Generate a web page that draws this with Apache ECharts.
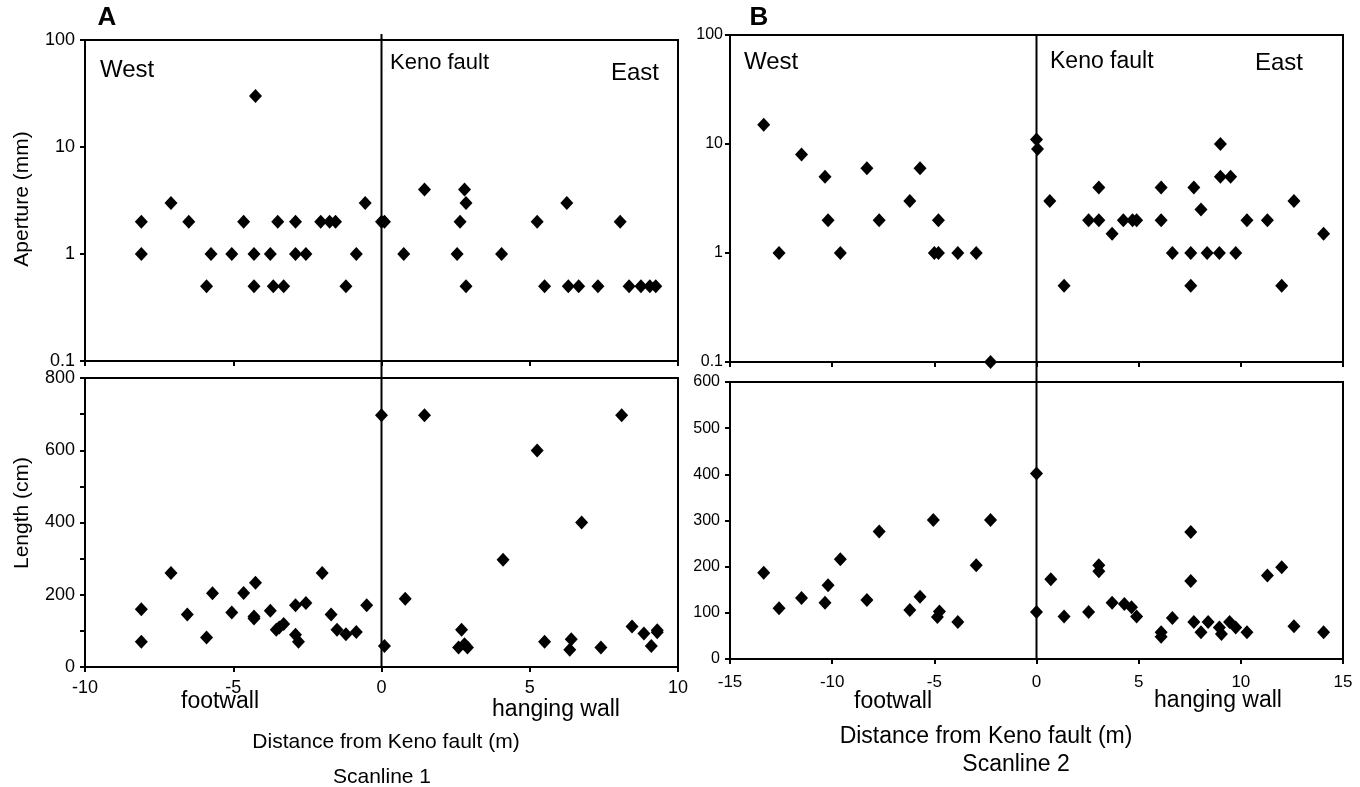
<!DOCTYPE html>
<html>
<head>
<meta charset="utf-8">
<script src="https://cdn.jsdelivr.net/npm/echarts@6/dist/echarts.min.js"></script>
<style>
html,body{margin:0;padding:0;background:#fff;}
#chart{width:1360px;height:787px;}
</style>
</head>
<body>
<div id="chart"></div>
<script>
// Scanline 1 (panel A): [distance m, aperture mm]
const scan1Aperture = [
  [-8.1,2],[-8.1,1],[-7.1,3],[-6.5,2],[-5.9,0.5],[-5.75,1],[-5.05,1],[-4.65,2],[-4.25,30],
  [-4.3,1],[-4.3,0.5],[-3.75,1],[-3.65,0.5],[-3.5,2],[-3.3,0.5],[-2.9,2],[-2.9,1],[-2.55,1],
  [-2.05,2],[-1.75,2],[-1.55,2],[-1.2,0.5],[-0.85,1],[-0.55,3],[0,2],[0.1,2],[0.75,1],
  [1.45,4],[2.65,2],[2.55,1],[2.8,4],[2.85,3],[2.85,0.5],[4.05,1],[5.25,2],[5.5,0.5],
  [6.25,3],[6.3,0.5],[6.65,0.5],[7.3,0.5],[8.05,2],[8.35,0.5],[8.75,0.5],[9.05,0.5],[9.25,0.5]
];
// Scanline 1 (panel A): [distance m, length cm]
const scan1Length = [
  [-8.1,160],[-8.1,70],[-7.1,260],[-6.55,145],[-5.9,82],[-5.7,204],[-5.05,151],[-4.65,205],
  [-4.25,233],[-4.3,140],[-4.3,134],[-3.75,156],[-3.55,103],[-3.45,109],[-3.3,119],[-2.9,171],
  [-2.55,177],[-2.9,89],[-2.8,70],[-2.0,260],[-1.7,145],[-1.5,103],[-1.2,91],[-0.85,97],
  [-0.5,171],[0,697],[0.1,58],[0.8,189],[1.45,697],[2.7,103],[2.6,54],[2.8,63],[2.9,54],
  [4.1,297],[5.25,599],[5.5,70],[6.4,77],[6.35,48],[6.75,400],[7.4,54],[8.1,697],[8.45,112],
  [8.85,93],[9.1,58],[9.3,102],[9.3,96]
];
// Scanline 2 (panel B): [distance m, aperture mm]
const scan2Aperture = [
  [-13.35,15],[-12.6,1],[-11.5,8],[-10.35,5],[-10.2,2],[-9.6,1],[-8.3,6],[-7.7,2],[-6.2,3],
  [-5.7,6],[-5.0,1],[-4.8,1],[-4.8,2],[-3.85,1],[-2.95,1],[-2.25,0.1],[0,11],[0.05,9],
  [0.65,3],[1.35,0.5],[2.55,2],[3.05,4],[3.05,2],[3.7,1.5],[4.25,2],[4.7,2],[4.9,2],
  [6.1,4],[6.1,2],[6.65,1],[7.55,1],[7.55,0.5],[7.7,4],[8.05,2.5],[8.35,1],[9.0,10],
  [9.0,5],[8.95,1],[9.5,5],[9.75,1],[10.3,2],[11.3,2],[12.0,0.5],[12.6,3],[14.05,1.5]
];
// Scanline 2 (panel B): [distance m, length cm]
const scan2Length = [
  [-13.35,187],[-12.6,110],[-11.5,132],[-10.35,122],[-10.2,160],[-9.6,216],[-8.3,128],
  [-7.7,276],[-6.2,106],[-5.7,135],[-5.05,301],[-4.75,103],[-4.85,91],[-3.85,80],[-2.95,203],
  [-2.25,301],[0,402],[0,102],[0.7,173],[1.35,92],[2.55,102],[3.05,203],[3.05,190],[3.7,122],
  [4.3,119],[4.65,112],[4.9,92],[6.1,58],[6.1,48],[6.65,89],[7.55,275],[7.55,169],[7.7,80],
  [8.05,58],[8.4,80],[8.95,68],[9.05,54],[9.45,80],[9.75,68],[10.3,58],[11.3,181],[12.0,199],
  [12.6,71],[14.05,58]
];
// Fault trace (x = 0), spans both plots of a panel
const faultLine = [[0,0],[0,1]];

const scan1XRange = [-10, 10];
const scan2XRange = [-15, 15];
const apertureRange = [0.1, 100];
const scan1LengthRange = [0, 800];
const scan2LengthRange = [0, 600];

const FONT = 'Liberation Sans, Arial, Helvetica, sans-serif';
const black = '#000';

function xAx(gi, range, showLabels, fs, margin) {
  return {
    gridIndex: gi, type: 'value', min: range[0], max: range[1], interval: 5,
    axisLine: {show: true, onZero: false, lineStyle: {color: black, width: 2}},
    axisTick: {show: true, inside: false, length: 5, lineStyle: {color: black, width: 2}},
    axisLabel: {show: showLabels, color: black, fontSize: fs, fontFamily: FONT, margin: margin},
    splitLine: {show: false}
  };
}
function hiddenAx(gi, range) {
  return {gridIndex: gi, type: 'value', min: range[0], max: range[1], show: false, splitLine: {show: false}};
}
function yLog(gi, fs, margin) {
  return {
    gridIndex: gi, type: 'log', logBase: 10, min: apertureRange[0], max: apertureRange[1],
    axisLine: {show: true, onZero: false, lineStyle: {color: black, width: 2}},
    axisTick: {show: true, length: 5, lineStyle: {color: black, width: 2}},
    axisLabel: {color: black, fontSize: fs, fontFamily: FONT, margin: margin,
      formatter: v => String(+v.toPrecision(3))},
    splitLine: {show: false}, minorTick: {show: false}
  };
}
function yLin(gi, range, labelEvery, fs, margin) {
  return {
    gridIndex: gi, type: 'value', min: range[0], max: range[1], interval: 100,
    axisLine: {show: true, onZero: false, lineStyle: {color: black, width: 2}},
    axisTick: {show: true, length: 5, lineStyle: {color: black, width: 2}},
    axisLabel: {color: black, fontSize: fs, fontFamily: FONT, margin: margin,
      showMinLabel: true, showMaxLabel: true,
      formatter: v => (Math.round(v) % labelEvery === 0 ? String(Math.round(v)) : '')},
    splitLine: {show: false}
  };
}
function scatter(xi, yi, data) {
  return {
    type: 'scatter', xAxisIndex: xi, yAxisIndex: yi, data: data,
    symbol: 'diamond', symbolSize: [13, 14], clip: false,
    itemStyle: {color: black, opacity: 1}, silent: true, animation: false, z: 5
  };
}
function lineS(xi, yi) {
  return {
    type: 'line', xAxisIndex: xi, yAxisIndex: yi, data: faultLine, symbol: 'none',
    lineStyle: {color: black, width: 2}, silent: true, animation: false, z: 1
  };
}

const gridStyle = {show: true, borderColor: black, borderWidth: 2, backgroundColor: 'transparent', containLabel: false};

function txt(text, x, y, size, opts) {
  opts = opts || {};
  return {
    type: 'text', x: x, y: y, rotation: opts.rot || 0, z: 100,
    style: {
      text: text, fill: black,
      font: (opts.bold ? 'bold ' : '') + size + 'px ' + FONT,
      textAlign: opts.align || 'center', textVerticalAlign: 'middle'
    }
  };
}

const option = {
  backgroundColor: '#fff',
  animation: false,
  grid: [
    Object.assign({left: 85, right: 682, top: 40, bottom: 426}, gridStyle),   // A top
    Object.assign({left: 85, right: 682, top: 378, bottom: 120}, gridStyle),  // A bottom
    Object.assign({left: 730, right: 17, top: 35, bottom: 425}, gridStyle),   // B top
    Object.assign({left: 730, right: 17, top: 382, bottom: 128}, gridStyle),  // B bottom
    {left: 85, right: 682, top: 34, bottom: 120, show: false},               // A fault overlay
    {left: 730, right: 17, top: 35, bottom: 128, show: false}                // B fault overlay
  ],
  xAxis: [
    xAx(0, scan1XRange, false, 18, 10),
    xAx(1, scan1XRange, true, 18, 12),
    xAx(2, scan2XRange, false, 17, 14),
    xAx(3, scan2XRange, true, 17, 15),
    hiddenAx(4, scan1XRange),
    hiddenAx(5, scan2XRange)
  ],
  yAxis: [
    yLog(0, 18, 10),
    yLin(1, scan1LengthRange, 200, 18, 10),
    yLog(2, 16, 7),
    yLin(3, scan2LengthRange, 100, 16, 10),
    hiddenAx(4, [0, 1]),
    hiddenAx(5, [0, 1])
  ],
  series: [
    lineS(4, 4),
    lineS(5, 5),
    scatter(0, 0, scan1Aperture),
    scatter(1, 1, scan1Length),
    scatter(2, 2, scan2Aperture),
    scatter(3, 3, scan2Length)
  ],
  graphic: [
    txt('A', 107, 18, 26, {bold: true}),
    txt('B', 759, 18, 26, {bold: true}),
    txt('West', 100, 70, 24, {align: 'left'}),
    txt('Keno fault', 390, 63, 22, {align: 'left'}),
    txt('East', 659, 73, 24, {align: 'right'}),
    txt('West', 744, 62, 24, {align: 'left'}),
    txt('Keno fault', 1050, 62, 23, {align: 'left'}),
    txt('East', 1303, 63, 24, {align: 'right'}),
    txt('Aperture (mm)', 22, 199, 21, {rot: Math.PI / 2}),
    txt('Length (cm)', 22, 513, 21, {rot: Math.PI / 2}),
    txt('footwall', 220, 702, 23),
    txt('hanging wall', 556, 710, 23),
    txt('Distance from Keno fault (m)', 386, 742, 21),
    txt('Scanline 1', 382, 777, 21),
    txt('footwall', 893, 702, 23),
    txt('hanging wall', 1218, 701, 23),
    txt('Distance from Keno fault (m)', 986, 737, 23),
    txt('Scanline 2', 1016, 765, 23)
  ]
};

const chart = echarts.init(document.getElementById('chart'), null, {renderer: 'canvas'});
chart.setOption(option);
</script>
</body>
</html>
